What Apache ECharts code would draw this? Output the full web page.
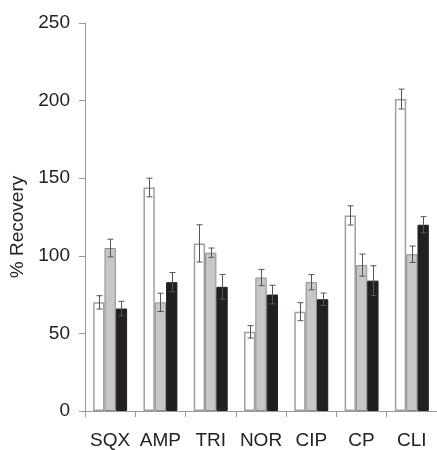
<!DOCTYPE html>
<html style="height: 100%">
<head>
<meta charset="utf-8">
<script src="https://cdn.jsdelivr.net/npm/echarts@6/dist/echarts.min.js"></script>
</head>
<body style="height: 100%; margin: 0; background: #fff">
<div id="container" style="width: 437px; height: 450px"></div>
<script>
// compounds on the x axis
var categories = ['SQX', 'AMP', 'TRI', 'NOR', 'CIP', 'CP', 'CLI'];

// % recovery, three conditions (white / grey / black bars)
var whiteVals = [70, 144, 108, 51, 64, 126, 201];
var greyVals  = [105, 70, 102, 86, 83, 94, 101];
var blackVals = [66, 83, 80, 75, 72, 84, 120];

// +/- error
var whiteErr = [4.3, 6, 12, 4, 5.8, 6.2, 6.4];
var greyErr  = [5.7, 5.9, 3, 5.2, 4.9, 7.1, 5.3];
var blackErr = [4.7, 6.2, 8, 6, 4, 9.6, 5.2];

var yTicks = [0, 50, 100, 150, 200, 250];

var dom = document.getElementById('container');
var myChart = echarts.init(dom);

var font = 'Liberation Sans, Arial, sans-serif';
var barW = 0.225; // fraction of a category band per bar

function errSeries(vals, errs, shift) {
    return {
        type: 'custom',
        z: 10,
        silent: true,
        data: vals.map(function (v, i) { return [i, v - errs[i], v + errs[i]]; }),
        renderItem: function (params, api) {
            var band = api.size([1, 0])[0];
            var lo = api.coord([api.value(0), api.value(1)]);
            var hi = api.coord([api.value(0), api.value(2)]);
            var x = Math.round(lo[0] + shift * band * barW) + 0.5;
            var cap = 3;
            var style = { stroke: '#555', lineWidth: 1 };
            return {
                type: 'group',
                children: [
                    { type: 'line', shape: { x1: x, y1: lo[1], x2: x, y2: hi[1] }, style: style },
                    { type: 'line', shape: { x1: x - cap, y1: lo[1], x2: x + cap, y2: lo[1] }, style: style },
                    { type: 'line', shape: { x1: x - cap, y1: hi[1], x2: x + cap, y2: hi[1] }, style: style }
                ]
            };
        }
    };
}

var option = {
    animation: false,
    grid: { left: 85, right: 0, top: 23, bottom: 38 },
    xAxis: {
        type: 'category',
        data: categories,
        axisLine: { lineStyle: { color: '#9a9a9a', width: 1 } },
        axisTick: { show: true, length: 6, lineStyle: { color: '#9a9a9a' } },
        axisLabel: { color: '#222', fontSize: 19, fontFamily: font, margin: 20, interval: 0, hideOverlap: false }
    },
    yAxis: {
        type: 'value',
        min: 0,
        max: yTicks[yTicks.length - 1],
        interval: 50,
        name: '% Recovery',
        nameLocation: 'middle',
        nameGap: 56,
        nameTextStyle: { color: '#222', fontSize: 19, fontFamily: font, padding: [0, 20, 0, 0] },
        splitLine: { show: false },
        axisLine: { show: true, lineStyle: { color: '#9a9a9a', width: 1 } },
        axisTick: { show: true, length: 6, lineStyle: { color: '#9a9a9a' } },
        axisLabel: { color: '#222', fontSize: 19, fontFamily: font, margin: 15 }
    },
    series: [
        {
            type: 'bar', data: whiteVals, barWidth: '22.5%', barGap: '0%',
            itemStyle: { color: '#fff', borderColor: '#a0a0a0', borderWidth: 1.5 }
        },
        {
            type: 'bar', data: greyVals, barWidth: '22.5%', barGap: '0%',
            itemStyle: { color: '#c6c7c9', borderColor: '#8d8d8d', borderWidth: 1 }
        },
        {
            type: 'bar', data: blackVals, barWidth: '22.5%', barGap: '0%',
            itemStyle: { color: '#231f20', borderColor: '#231f20', borderWidth: 1 }
        },
        errSeries(whiteVals, whiteErr, -1),
        errSeries(greyVals, greyErr, 0),
        errSeries(blackVals, blackErr, 1)
    ]
};

if (option && typeof option === 'object') {
    myChart.setOption(option);
}
</script>
</body>
</html>
